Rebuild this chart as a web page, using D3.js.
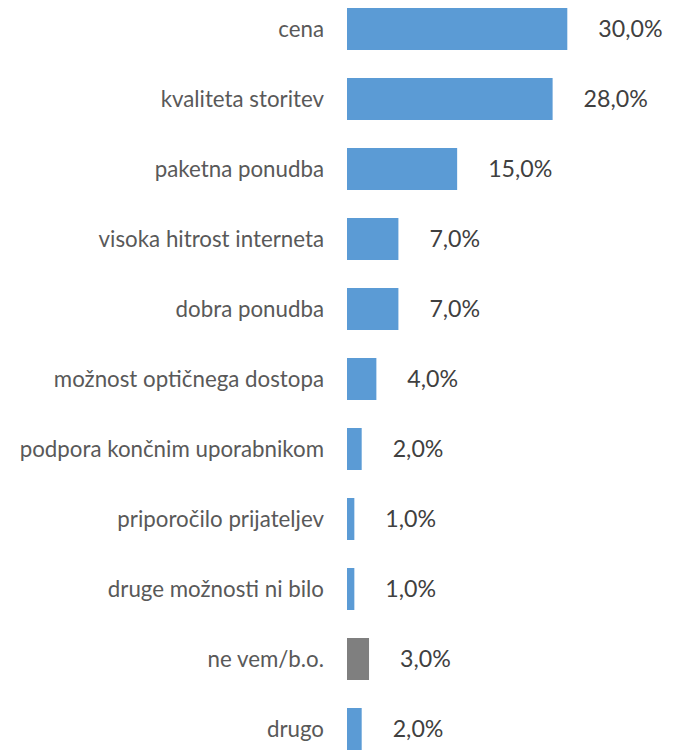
<!DOCTYPE html>
<html><head><meta charset="utf-8">
<script src="https://cdn.jsdelivr.net/npm/d3@7"></script>
<style>body{margin:0;background:#fff}svg{display:block}</style>
</head><body>
<script>
const categories = ["cena","kvaliteta storitev","paketna ponudba","visoka hitrost interneta","dobra ponudba","možnost optičnega dostopa","podpora končnim uporabnikom","priporočilo prijateljev","druge možnosti ni bilo","ne vem/b.o.","drugo"];
const values = [30,28,15,7,7,4,2,1,1,3,2];
const valueLabels = ["30,0%","28,0%","15,0%","7,0%","7,0%","4,0%","2,0%","1,0%","1,0%","3,0%","2,0%"];
const grayCategories = ["ne vem/b.o."];

const W = 679, H = 751;
const svg = d3.select("body").append("svg").attr("width", W).attr("height", H);
const x = d3.scaleLinear().domain([0, 30]).range([347, 567.3]);
const y = d3.scaleBand().domain(categories).range([-6, 764]).paddingInner(0.4).paddingOuter(0.2);

svg.selectAll("rect.bar").data(categories).join("rect")
  .attr("x", x(0))
  .attr("y", d => y(d))
  .attr("width", (d,i) => x(values[i]) - x(0))
  .attr("height", y.bandwidth())
  .attr("fill", d => grayCategories.includes(d) ? "#7f7f7f" : "#5b9bd5");

svg.selectAll("text.cat").data(categories).join("text")
  .attr("x", 324)
  .attr("y", d => y(d) + y.bandwidth()/2)
  .attr("dy", "0.35em")
  .attr("text-anchor", "end")
  .attr("font-family", "Lato, 'Open Sans', sans-serif")
  .attr("font-size", 22.3)
  .attr("fill", "#595959")
  .text(d => d);

svg.selectAll("text.val").data(categories).join("text")
  .attr("x", (d,i) => x(values[i]) + 31)
  .attr("y", d => y(d) + y.bandwidth()/2)
  .attr("dy", "0.36em")
  .attr("font-family", "Lato, 'Open Sans', sans-serif")
  .attr("font-size", 23.2)
  .attr("fill", "#404040")
  .text((d,i) => valueLabels[i]);
</script>
</body></html>
